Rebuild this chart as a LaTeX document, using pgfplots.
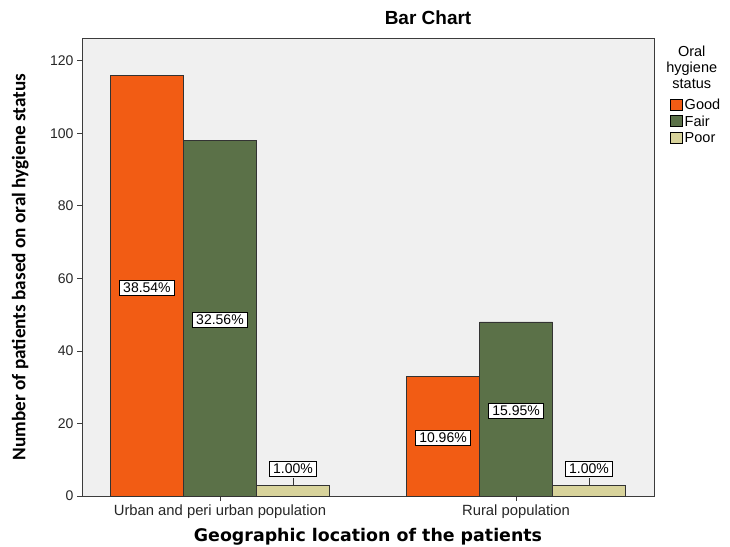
\documentclass[border=0pt]{standalone}
\usepackage{pgfplots}
\pgfplotsset{compat=1.18}
\usepackage{fontspec}
\setmainfont{Liberation Sans}
\newfontfamily\calib{Carlito}
\newfontfamily\verd{DejaVu Sans}
\definecolor{cgood}{RGB}{242,92,20}
\definecolor{cfair}{RGB}{91,113,72}
\definecolor{cpoor}{RGB}{216,211,155}
\definecolor{cbg}{RGB}{240,240,240}
\definecolor{cax}{RGB}{60,60,60}
\begin{document}
\begin{tikzpicture}[x=1pt,y=1pt]
\path[use as bounding box] (0,0) rectangle (730,546);
\begin{axis}[
  at={(82pt,50pt)}, anchor=south west,
  scale only axis, width=572pt, height=458pt,
  clip=false,
  xmin=-0.466, xmax=1.466, ymin=0, ymax=126.3,
  axis background/.style={fill=cbg},
  axis line style={cax, line width=0.8pt},
  tick pos=left, tick align=outside, major tick length=5pt,
  tick style={cax, line width=0.8pt},
  xtick={0,1},
  xticklabels={Urban and peri urban population, Rural population},
  ytick={0,20,...,120},
  /pgf/number format/assume math mode=true,
  xticklabel style={font=\fontsize{14.8}{16}\selectfont, text=black!85},
  yticklabel style={font=\fontsize{14}{16}\selectfont, text=black!85},
  title={\textbf{Bar Chart}},
  title style={at={(axis description cs:0.605,1)}, anchor=south, yshift=4pt, font=\fontsize{19}{21}\selectfont},
  xlabel={\verd\bfseries Geographic location of the patients},
  xlabel style={at={(axis description cs:0.5,0)}, anchor=center, yshift=-41pt, font=\fontsize{17.4}{19}\selectfont},
  ylabel={\calib\bfseries Number of patients based on oral hygiene status},
  ylabel style={at={(axis description cs:-0.108,0.5)}, anchor=center, font=\fontsize{19.2}{21}\selectfont},
  legend style={at={(axis description cs:1.027,0.868)}, anchor=north west, draw=none, fill=none,
    font=\fontsize{14.5}{15}\selectfont, row sep=3.5pt, inner sep=0pt,
    nodes={inner xsep=0pt, inner ysep=0.5pt}},
  legend cell align=left,
  legend image code/.code={\draw[#1, draw=black, line width=0.6pt] (0pt,-5pt) rectangle (12pt,6pt); \path (14.5pt,0pt);},
]
\addplot[ybar, bar width=0.2466, bar shift=-0.2466, fill=cgood, draw=black!80, line width=0.6pt]
  coordinates {(0,116) (1,33)};
\addplot[ybar, bar width=0.2466, bar shift=0, fill=cfair, draw=black!80, line width=0.6pt]
  coordinates {(0,98) (1,48)};
\addplot[ybar, bar width=0.2466, bar shift=0.2466, fill=cpoor, draw=black!80, line width=0.6pt]
  coordinates {(0,3) (1,3)};
\legend{Good, Fair, Poor}
\addplot[forget plot, black!80, line width=0.6pt] coordinates {(0.2466,3) (0.2466,5)};
\addplot[forget plot, black!80, line width=0.6pt] coordinates {(1.2466,3) (1.2466,5)};
\addplot[forget plot, draw=none, mark=none, nodes near coords, point meta=explicit symbolic,
  nodes near coords align=center,
  every node near coord/.append style={anchor=center, draw=black, fill=white, line width=0.6pt,
    inner xsep=3.5pt, inner ysep=2.5pt, font=\fontsize{14}{15}\selectfont}]
  coordinates {(-0.2466,57.5) [38.54\%] (0,48.5) [32.56\%] (0.2466,7.5) [1.00\%]
               (0.7534,16) [10.96\%] (1,23.5) [15.95\%] (1.2466,7.5) [1.00\%]};
\node[align=center, font=\fontsize{14.5}{16}\selectfont] at (axis description cs:1.066,0.935)
  {Oral\\hygiene\\status};
\end{axis}
\end{tikzpicture}
\end{document}
